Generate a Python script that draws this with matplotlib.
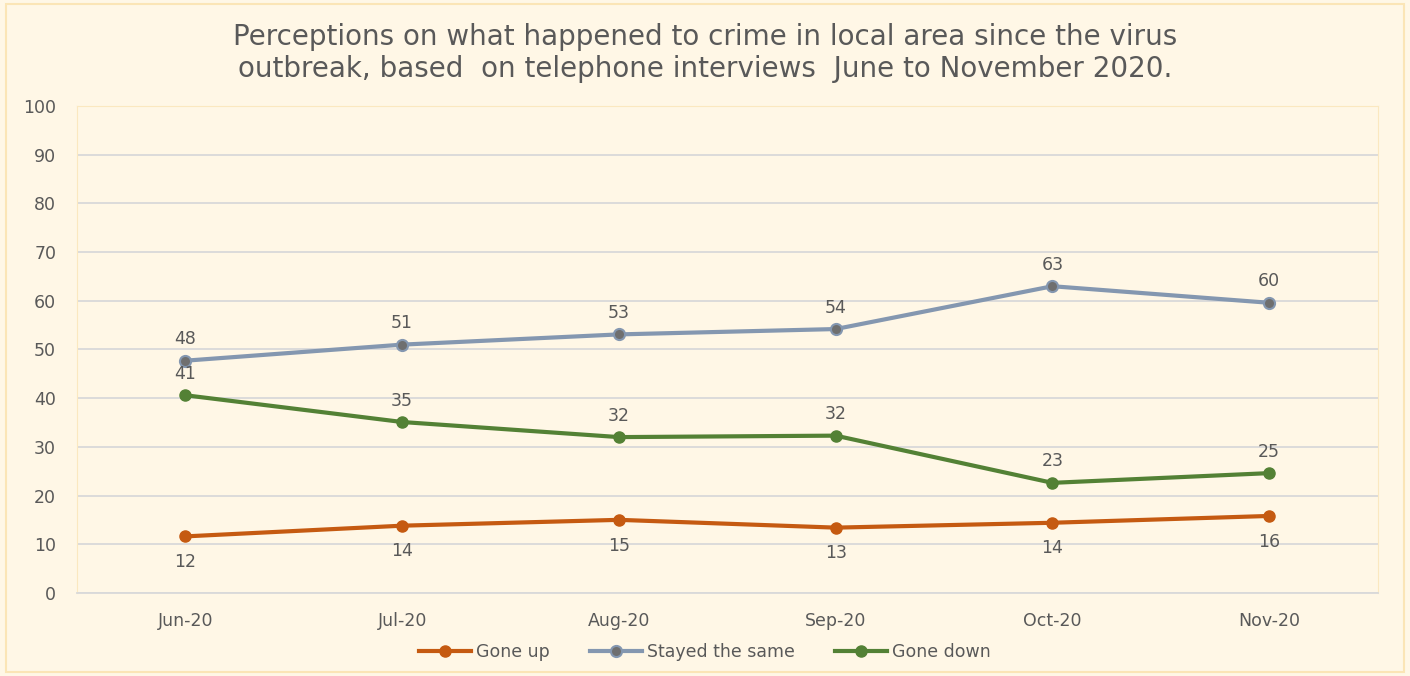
import numpy as np
import matplotlib.pyplot as plt
from matplotlib.patches import Rectangle

plt.rc("font", family=["DejaVu Sans"])

months = ["Jun-20", "Jul-20", "Aug-20", "Sep-20", "Oct-20", "Nov-20"]
gone_up = [11.6, 13.8, 15.0, 13.4, 14.4, 15.8]
stayed_same = [47.7, 51.0, 53.1, 54.2, 63.0, 59.6]
gone_down = [40.6, 35.1, 32.0, 32.3, 22.6, 24.6]

bg = "#FFF7E6"
txt = "#595959"

fig = plt.figure(figsize=(14.10, 6.76), dpi=100, facecolor=bg)
fig.patches.append(Rectangle((0.004, 0.006), 0.992, 0.988, transform=fig.transFigure,
                             fill=False, edgecolor="#FBE5B6", lw=1.5))
ax = fig.add_axes([0.0546, 0.123, 0.9224, 0.720])
ax.set_facecolor(bg)

x = np.arange(len(months))
ax.plot(x, gone_up, color="#C55A11", lw=3.0, marker="o", ms=8, label="Gone up")
ax.plot(x, stayed_same, color="#8497B0", lw=3.0, marker="o", ms=8,
        mfc="#6F6F6F", mec="#8497B0", mew=1.5, label="Stayed the same")
ax.plot(x, gone_down, color="#538135", lw=3.0, marker="o", ms=8, label="Gone down")

for xi, v in zip(x, gone_up):
    ax.annotate(f"{v:.0f}", (xi, v), xytext=(0, -12), textcoords="offset points",
                ha="center", va="top", fontsize=12.5, color=txt)
for xi, v in zip(x, stayed_same):
    ax.annotate(f"{v:.0f}", (xi, v), xytext=(0, 9), textcoords="offset points",
                ha="center", va="bottom", fontsize=12.5, color=txt)
for xi, v in zip(x, gone_down):
    ax.annotate(f"{v:.0f}", (xi, v), xytext=(0, 9), textcoords="offset points",
                ha="center", va="bottom", fontsize=12.5, color=txt)

ax.set_xlim(-0.5, len(months) - 0.5)
ax.set_ylim(0, 100)
ax.set_yticks(range(0, 101, 10))
ax.set_xticks(x)
ax.set_xticklabels(months)
ax.tick_params(axis="both", length=0, labelsize=12.5, colors=txt)
ax.tick_params(axis="x", pad=14)
ax.tick_params(axis="y", pad=15)
ax.grid(axis="y", color="#D9D9D9", lw=1.3)
ax.set_axisbelow(True)
for s in ["top", "right", "left"]:
    ax.spines[s].set_color("#FBE8C0")
ax.spines["bottom"].set_color("#D9D9D9")
ax.spines["bottom"].set_linewidth(1.3)

fig.text(0.5, 0.922, "Perceptions on what happened to crime in local area since the virus\n"
         "outbreak, based  on telephone interviews  June to November 2020.",
         ha="center", va="center", fontsize=20, color=txt, linespacing=1.2)

fig.legend(loc="center", bbox_to_anchor=(0.5, 0.036), ncol=3, frameon=False,
           fontsize=12.5, labelcolor=txt, handlelength=3.0, columnspacing=2.3,
           handletextpad=0.3)

fig.savefig("out.png", dpi=100, facecolor=bg)
